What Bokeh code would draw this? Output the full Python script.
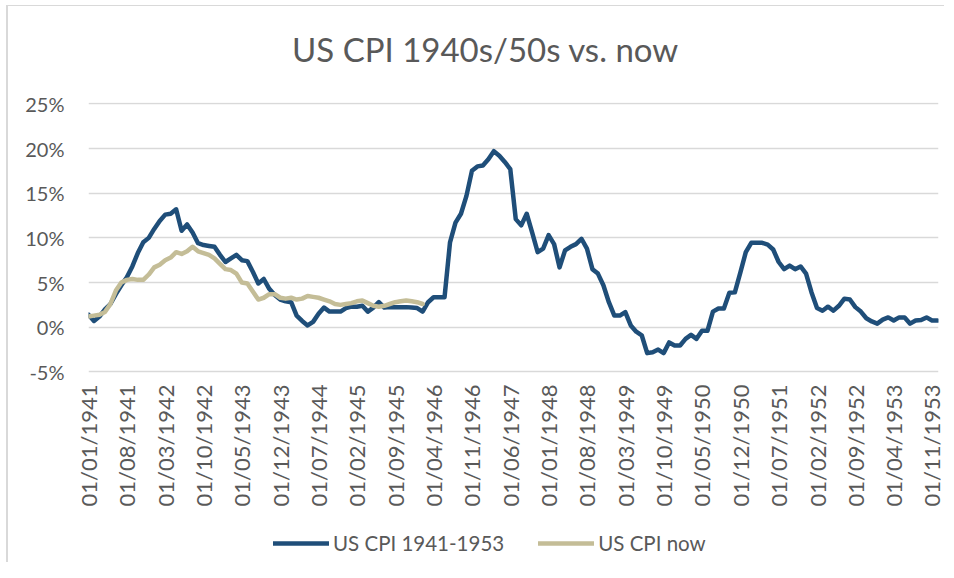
import math
from bokeh.plotting import figure
from bokeh.layouts import column
from bokeh.models import FixedTicker, Legend, LegendItem, Label, Range1d, ColumnDataSource
from bokeh.embed import file_html
from bokeh.resources import INLINE

# ---------------- data ----------------
cpi_1941_1953 = [
    1.4, 0.7, 1.2, 2.0, 2.6, 3.7, 4.7, 5.6, 6.8, 8.3, 9.5, 10.0,
    11.0, 11.9, 12.6, 12.7, 13.2, 10.8, 11.5, 10.6, 9.4, 9.2, 9.1, 9.0,
    8.1, 7.3, 7.7, 8.1, 7.5, 7.4, 6.2, 4.9, 5.4, 4.3, 3.6, 3.1,
    2.9, 2.8, 1.3, 0.7, 0.2, 0.6, 1.5, 2.2, 1.75, 1.75, 1.75, 2.15,
    2.3, 2.3, 2.4, 1.75, 2.2, 2.8, 2.2, 2.25, 2.25, 2.25, 2.25, 2.2,
    2.15, 1.75, 2.8, 3.35, 3.35, 3.35, 9.5, 11.7, 12.7, 14.7, 17.5, 18.0,
    18.1, 18.8, 19.7, 19.2, 18.5, 17.7, 12.1, 11.4, 12.7, 10.6, 8.4, 8.8,
    10.3, 9.3, 6.7, 8.6, 9.0, 9.3, 9.9, 8.8, 6.5, 6.0, 4.7, 2.8,
    1.3, 1.3, 1.7, 0.2, -0.5, -0.9, -2.9, -2.8, -2.5, -2.9, -1.7, -2.05,
    -2.05, -1.3, -0.85, -1.3, -0.4, -0.4, 1.75, 2.1, 2.1, 3.85, 3.9, 6.1,
    8.4, 9.45, 9.45, 9.45, 9.25, 8.7, 7.3, 6.5, 6.9, 6.5, 6.8, 6.0,
    3.9, 2.15, 1.85, 2.3, 1.85, 2.4, 3.2, 3.1, 2.25, 1.75, 1.0, 0.65,
    0.4, 0.85, 1.1, 0.75, 1.1, 1.1, 0.4, 0.75, 0.8, 1.1, 0.75, 0.75,
]

cpi_now = [
    1.2, 1.3, 1.4, 1.7, 2.6, 4.1, 5.0, 5.3, 5.4, 5.3, 5.3, 5.9,
    6.7, 7.0, 7.5, 7.8, 8.4, 8.2, 8.5, 9.0, 8.5, 8.3, 8.1, 7.7,
    7.1, 6.5, 6.4, 6.0, 5.0, 4.9, 4.0, 3.1, 3.3, 3.7, 3.7, 3.3,
    3.2, 3.3, 3.1, 3.2, 3.5, 3.4, 3.3, 3.1, 2.9, 2.6, 2.5, 2.6,
    2.7, 2.9, 3.0, 2.7, 2.4, 2.3, 2.4, 2.6, 2.8, 2.9, 3.0, 2.9,
    2.8, 2.6,
]

x_tick_labels = [
    "01/01/1941", "01/08/1941", "01/03/1942", "01/10/1942", "01/05/1943",
    "01/12/1943", "01/07/1944", "01/02/1945", "01/09/1945", "01/04/1946",
    "01/11/1946", "01/06/1947", "01/01/1948", "01/08/1948", "01/03/1949",
    "01/10/1949", "01/05/1950", "01/12/1950", "01/07/1951", "01/02/1952",
    "01/09/1952", "01/04/1953", "01/11/1953",
]
tick_step_months = 7
y_ticks = [-5, 0, 5, 10, 15, 20, 25]

series_names = ["US CPI 1941-1953", "US CPI now"]
series_colors = ["#1F4E79", "#C4BD97"]
title_text = "US CPI 1940s/50s vs. now"

FONT = "Lato"
TXT = "#595959"
W = 936

# ---------------- title strip ----------------
tfig = figure(
    width=W, height=70, output_backend="svg", toolbar_location=None,
    x_range=Range1d(0, 1), y_range=Range1d(0, 1), min_border=0,
)
tfig.axis.visible = False
tfig.grid.visible = False
tfig.outline_line_color = None
tfig.border_fill_color = "white"
tfig.background_fill_color = "white"
tfig.add_layout(Label(
    x=397, y=28, x_units="screen", y_units="screen", text=title_text,
    text_align="center", text_baseline="middle",
    text_font=FONT, text_font_size="33px", text_color=TXT,
))

# ---------------- main figure ----------------
x_ticks = [i * tick_step_months for i in range(len(x_tick_labels))]

p = figure(
    width=W, height=439,
    output_backend="svg", toolbar_location=None,
    x_range=Range1d(0, 155.18), y_range=Range1d(-5.29, 25.15),
    min_border_left=80, min_border_right=6,
    min_border_top=26, min_border_bottom=141,
)
p.outline_line_color = None
p.background_fill_color = "white"
p.border_fill_color = "white"

p.xgrid.visible = False
p.ygrid.grid_line_color = "#D9D9D9"
p.ygrid.grid_line_width = 1.3

p.yaxis.ticker = FixedTicker(ticks=y_ticks)
p.yaxis.major_label_overrides = {v: f"{v}%" for v in y_ticks}
p.yaxis.axis_line_color = None
p.yaxis.major_tick_line_color = None
p.yaxis.major_tick_out = 0
p.yaxis.major_tick_in = 0
p.yaxis.minor_tick_line_color = None
p.yaxis.major_label_standoff = 24
p.yaxis.major_label_text_font = FONT
p.yaxis.major_label_text_font_size = "20px"
p.yaxis.major_label_text_color = TXT

p.xaxis.ticker = FixedTicker(ticks=x_ticks)
p.xaxis.major_label_overrides = dict(zip(x_ticks, x_tick_labels))
p.xaxis.major_label_orientation = math.pi / 2
p.xaxis.axis_line_color = None
p.xaxis.major_tick_line_color = None
p.xaxis.major_tick_out = 0
p.xaxis.major_tick_in = 0
p.xaxis.minor_tick_line_color = None
p.xaxis.major_label_standoff = 10
p.xaxis.major_label_text_font = FONT
p.xaxis.major_label_text_font_size = "22px"
p.xaxis.major_label_text_color = TXT

src_old = ColumnDataSource(dict(x=list(range(len(cpi_1941_1953))), y=cpi_1941_1953))
src_now = ColumnDataSource(dict(x=list(range(len(cpi_now))), y=cpi_now))

p.line("x", "y", source=src_old, line_color=series_colors[0], line_width=4.5,
       line_join="round", line_cap="round")
p.line("x", "y", source=src_now, line_color=series_colors[1], line_width=4.5,
       line_join="round", line_cap="round")

# ---------------- legend strip ----------------
leg = figure(
    width=W, height=47, output_backend="svg", toolbar_location=None,
    x_range=Range1d(0, 1), y_range=Range1d(0, 1), min_border=0,
)
leg.axis.visible = False
leg.grid.visible = False
leg.outline_line_color = None
leg.border_fill_color = "white"
leg.background_fill_color = "white"

nan = float("nan")
k1 = leg.line(x=[nan], y=[nan], line_color=series_colors[0], line_width=4.5, line_cap="round")
k2 = leg.line(x=[nan], y=[nan], line_color=series_colors[1], line_width=4.5, line_cap="round")

legend = Legend(
    items=[LegendItem(label=series_names[0], renderers=[k1]),
           LegendItem(label=series_names[1], renderers=[k2])],
    orientation="horizontal", location=(185, 7),
    padding=0, margin=0, spacing=34, label_standoff=4,
    glyph_width=56, glyph_height=24, label_height=24,
    label_text_font=FONT, label_text_font_size="20.5px", label_text_color=TXT,
    border_line_alpha=0, background_fill_alpha=0,
)
leg.add_layout(legend)

layout = column(tfig, p, leg, spacing=0, styles={
    "margin-left": "6px", "margin-top": "5px",
    "border-left": "2px solid #D9D9D9", "border-top": "1px solid #D9D9D9",
})
open("out.html", "w").write(file_html(layout, INLINE))
